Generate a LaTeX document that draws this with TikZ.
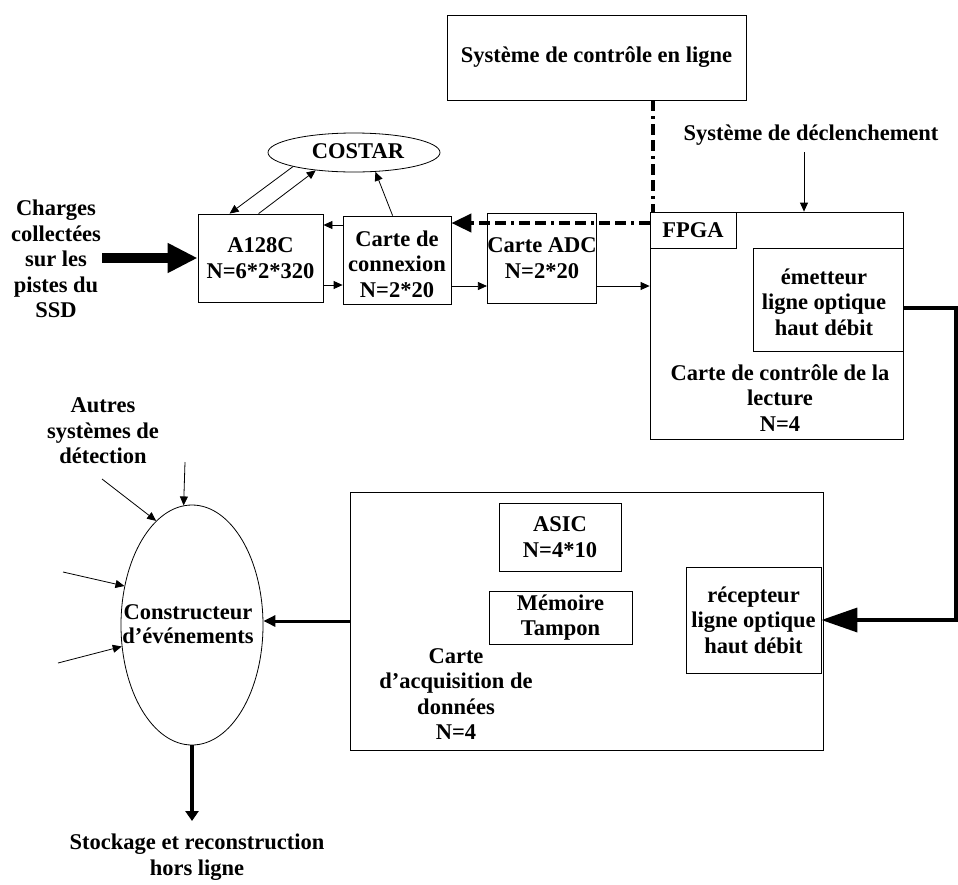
\documentclass[tikz,border=0pt]{standalone}
\usepackage{fontspec}
\setmainfont{Liberation Serif}
\usetikzlibrary{arrows.meta,shapes.geometric}
\begin{document}
\begin{tikzpicture}[x=1pt,y=-1pt,
  every node/.style={font=\fontsize{22.5}{25.5}\selectfont\bfseries, align=center, inner sep=0pt},
  box/.style={draw, line width=0.8pt, rectangle},
  oval/.style={draw, line width=0.8pt, ellipse},
  arr/.style={line width=0.8pt, -{Triangle[length=9pt,width=8pt]}},
  ddash/.style={line width=4pt, dash pattern=on 11pt off 5pt on 3pt off 5pt on 11pt off 5pt},
]
\useasboundingbox (0,0) rectangle (958,884);

% top
\node[box, minimum width=299pt, minimum height=85pt] (sys) at (596.5,57.5) {Système de contrôle en ligne};
\node[oval, minimum width=172pt, minimum height=39pt] (costar) at (354,152.5) {};
\node (costartxt) at (358,151) {COSTAR};
\node (trig) at (811,135) {Système de déclenchement};
\coordinate (trigA) at (804,152);

\node (charges) at (56,259) {Charges\\collectées\\sur les\\pistes du\\SSD};
\coordinate (chA) at (102,258);

\node[box, minimum width=125pt, minimum height=88pt] (a128) at (260.5,258) {A128C\\N=6*2*320};
\node[box, minimum width=108pt, minimum height=88pt] (conn) at (397,260) {};
\node (conntxt) at (397,264) {Carte de\\connexion\\N=2*20};
\node[box, minimum width=106pt, minimum height=90pt] (adc) at (542,258) {Carte ADC\\N=2*20};

\node[box, minimum width=253pt, minimum height=227pt] (lect) at (776.5,325.5) {};
\node[box, minimum width=86pt, minimum height=36pt] (fpga) at (693,230) {FPGA};
\node[box, minimum width=150pt, minimum height=103pt] (emet) at (828,299.5) {};
\node (emettxt) at (824,302) {émetteur\\ligne optique\\haut débit};
\node (lecttxt) at (780,398) {Carte de contrôle de la\\lecture\\N=4};

% bottom
\node (autres) at (103,431) {Autres\\systèmes de\\détection};
\node[oval, minimum width=142pt, minimum height=240pt] (cons) at (192,625) {};
\node[font=\fontsize{22.5}{24}\selectfont\bfseries] (constxt) at (188,624) {Constructeur\\d’événements};
\coordinate (in1) at (185,462);
\coordinate (in2) at (102,479);
\coordinate (in3) at (63,572);
\coordinate (in4) at (58,663);

\node[box, minimum width=473pt, minimum height=258pt] (acq) at (586.5,621) {};
\node[box, minimum width=122pt, minimum height=68pt] (asic) at (560,537) {ASIC\\N=4*10};
\node[box, minimum width=143pt, minimum height=53pt] (mem) at (560.5,617.5) {Mémoire\\Tampon};
\node[box, minimum width=135pt, minimum height=106pt] (recep) at (753.5,620) {récepteur\\ligne optique\\haut débit};
\node (acqtxt) at (456,694) {Carte\\d’acquisition de\\données\\N=4};

\node (stock) at (197,857) {Stockage et reconstruction\\hors ligne};
\coordinate (stA) at (192,821);
\coordinate (opt) at (956,308);

% connectors top
\draw[line width=10pt, -{Triangle[length=30pt,width=28pt]}] (chA) -- (a128.west);
\draw[arr] (costar.193.8) -- ([xshift=32pt]a128.north west);
\draw[arr] ([xshift=61pt]a128.north west) -- (costar.205.9);
\draw[arr] ([xshift=50pt]conn.north west) -- (costar.-42);
\draw[arr] (conn.west |- 0,225) -- (a128.east |- 0,225);
\draw[arr] (a128.east |- 0,285) -- (conn.west |- 0,285);
\draw[arr] (conn.east |- 0,286) -- (adc.west |- 0,286);
\draw[arr] (adc.east |- 0,286) -- (lect.west |- 0,286);
\draw[arr] (trigA) -- (lect.north -| trigA);
\draw[ddash] (sys.south -| 653,0) -- (fpga.north -| 653,0);
\draw[ddash, -{Triangle[length=20pt,width=18pt]}] (fpga.west |- 0,223) -- (conn.east |- 0,223);
\draw[line width=3.5pt, -{Triangle[length=36pt,width=24pt]}] (emet.east |- opt) -- (opt) -- (opt |- recep.east) -- (recep.east);

% connectors bottom
\draw[arr] (in1) -- (cons.94);
\draw[arr] (in2) -- (cons.109);
\draw[arr] (in3) -- (cons.150);
\draw[arr] (in4) -- (cons.197);
\draw[line width=3pt, -{Triangle[length=12pt,width=11pt]}] (acq.west) -- (cons.east |- acq.west);
\draw[line width=4pt, -{Triangle[length=10pt,width=13pt]}] (cons.south) -- (stA);
\end{tikzpicture}
\end{document}
